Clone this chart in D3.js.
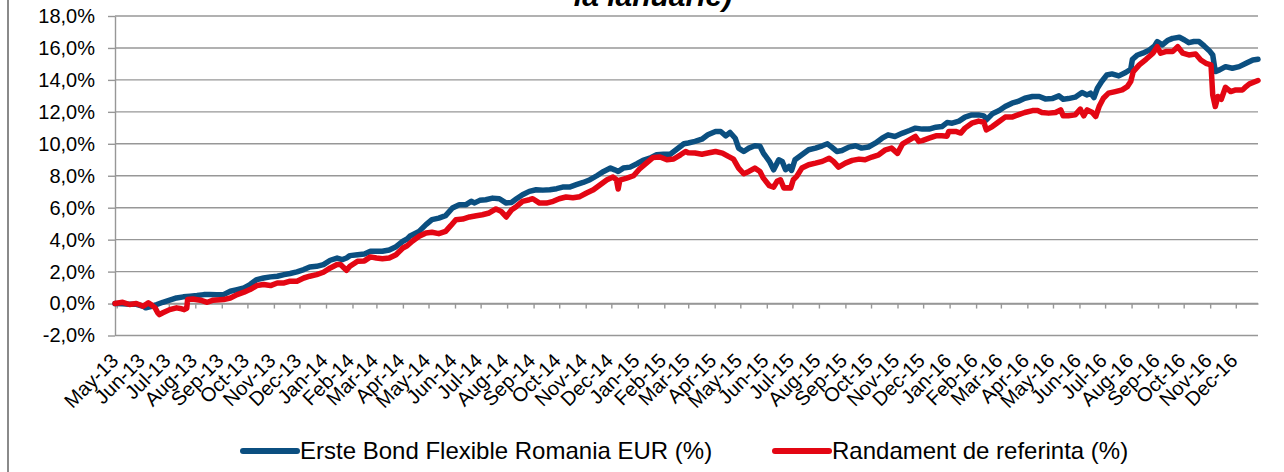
<!DOCTYPE html>
<html>
<head>
<meta charset="utf-8">
<style>
  body { margin: 0; background: #fff; }
  svg { display: block; font-family: "Liberation Sans", Arial, sans-serif; }
  .grid line { stroke: #979797; stroke-width: 1.4; }
  .axis .domain, .axis line { stroke: #979797; stroke-width: 1.4; }
  .axis text { font-size: 20px; fill: #000; }
</style>
</head>
<body>
<svg width="1284" height="472"></svg>
<script src="https://cdn.jsdelivr.net/npm/d3@7"></script>
<script>

// month ticks and y ticks shown on the axes
var yTicks = [-2, 0, 2, 4, 6, 8, 10, 12, 14, 16, 18];
var monthStart = "2013-05-01", monthEnd = "2016-12-01";

var seriesNames = ["Erste Bond Flexible Romania EUR (%)", "Randament de referinta (%)"];

// Erste Bond Flexible Romania EUR (%), cumulative return
var fundData = [
  ["2013-04-29", 0.0], ["2013-05-08", -0.02], ["2013-05-16", -0.05], ["2013-05-24", -0.05],
  ["2013-06-01", -0.17], ["2013-06-04", -0.27], ["2013-06-11", -0.17], ["2013-06-17", -0.06],
  ["2013-06-24", 0.08], ["2013-07-02", 0.21], ["2013-07-10", 0.35], ["2013-07-18", 0.42],
  ["2013-07-26", 0.46], ["2013-08-03", 0.5], ["2013-08-11", 0.56], ["2013-08-18", 0.56],
  ["2013-08-26", 0.55], ["2013-09-03", 0.56], ["2013-09-11", 0.77], ["2013-09-19", 0.875],
  ["2013-09-27", 0.98], ["2013-10-04", 1.19], ["2013-10-12", 1.5], ["2013-10-20", 1.6],
  ["2013-10-28", 1.67], ["2013-11-05", 1.71], ["2013-11-13", 1.81], ["2013-11-20", 1.88],
  ["2013-11-28", 1.98], ["2013-12-06", 2.125], ["2013-12-13", 2.29], ["2013-12-21", 2.33],
  ["2013-12-29", 2.44], ["2014-01-06", 2.71], ["2014-01-14", 2.85], ["2014-01-20", 2.75],
  ["2014-01-25", 2.85], ["2014-01-29", 3.0], ["2014-02-07", 3.06], ["2014-02-15", 3.1],
  ["2014-02-22", 3.27], ["2014-03-01", 3.27], ["2014-03-08", 3.27], ["2014-03-16", 3.35],
  ["2014-03-24", 3.56], ["2014-04-01", 3.9], ["2014-04-06", 4.04], ["2014-04-09", 4.21],
  ["2014-04-20", 4.52], ["2014-04-28", 4.94], ["2014-05-05", 5.25], ["2014-05-13", 5.35],
  ["2014-05-21", 5.5], ["2014-05-29", 5.98], ["2014-06-06", 6.19], ["2014-06-14", 6.19],
  ["2014-06-20", 6.4], ["2014-06-24", 6.3], ["2014-06-30", 6.46], ["2014-07-07", 6.5],
  ["2014-07-15", 6.6], ["2014-07-23", 6.56], ["2014-07-31", 6.29], ["2014-08-06", 6.33],
  ["2014-08-12", 6.56], ["2014-08-19", 6.81], ["2014-08-27", 7.02], ["2014-09-04", 7.125],
  ["2014-09-12", 7.1], ["2014-09-20", 7.125], ["2014-09-28", 7.19], ["2014-10-05", 7.29],
  ["2014-10-13", 7.29], ["2014-10-21", 7.44], ["2014-10-29", 7.58], ["2014-11-06", 7.75],
  ["2014-11-14", 8.0], ["2014-11-22", 8.27], ["2014-11-30", 8.48], ["2014-12-05", 8.37],
  ["2014-12-09", 8.27], ["2014-12-15", 8.48], ["2014-12-23", 8.54], ["2014-12-31", 8.75],
  ["2015-01-07", 8.96], ["2015-01-15", 9.1], ["2015-01-23", 9.31], ["2015-01-31", 9.35],
  ["2015-02-08", 9.35], ["2015-02-16", 9.67], ["2015-02-24", 10.0], ["2015-03-01", 10.05],
  ["2015-03-09", 10.15], ["2015-03-17", 10.29], ["2015-03-24", 10.56], ["2015-04-02", 10.77],
  ["2015-04-08", 10.77], ["2015-04-14", 10.5], ["2015-04-19", 10.71], ["2015-04-25", 10.35],
  ["2015-04-29", 9.73], ["2015-05-05", 9.52], ["2015-05-11", 9.73], ["2015-05-18", 9.875],
  ["2015-05-24", 9.85], ["2015-05-28", 9.42], ["2015-06-04", 8.9], ["2015-06-09", 8.375],
  ["2015-06-15", 9.0], ["2015-06-19", 8.9], ["2015-06-23", 8.375], ["2015-06-27", 8.58],
  ["2015-06-30", 8.33], ["2015-07-04", 9.0], ["2015-07-12", 9.31], ["2015-07-20", 9.625],
  ["2015-07-28", 9.73], ["2015-08-05", 9.875], ["2015-08-11", 10.0], ["2015-08-16", 9.79],
  ["2015-08-22", 9.52], ["2015-08-28", 9.58], ["2015-09-05", 9.79], ["2015-09-13", 9.875],
  ["2015-09-20", 9.73], ["2015-09-28", 9.8], ["2015-10-06", 10.04], ["2015-10-14", 10.35],
  ["2015-10-21", 10.56], ["2015-10-29", 10.46], ["2015-11-07", 10.67], ["2015-11-15", 10.83],
  ["2015-11-22", 10.98], ["2015-11-30", 10.92], ["2015-12-08", 10.92], ["2015-12-16", 11.04],
  ["2015-12-23", 11.08], ["2015-12-29", 11.33], ["2016-01-04", 11.29], ["2016-01-12", 11.42],
  ["2016-01-19", 11.67], ["2016-01-27", 11.81], ["2016-02-04", 11.81], ["2016-02-10", 11.75],
  ["2016-02-13", 11.5], ["2016-02-20", 11.875], ["2016-02-28", 12.08], ["2016-03-06", 12.33],
  ["2016-03-14", 12.54], ["2016-03-21", 12.65], ["2016-03-29", 12.85], ["2016-04-07", 12.96],
  ["2016-04-15", 12.96], ["2016-04-22", 12.81], ["2016-04-30", 12.83], ["2016-05-08", 13.0],
  ["2016-05-13", 12.79], ["2016-05-19", 12.83], ["2016-05-27", 12.92], ["2016-06-04", 13.21],
  ["2016-06-10", 13.06], ["2016-06-14", 13.17], ["2016-06-18", 12.9], ["2016-06-22", 13.48],
  ["2016-06-27", 13.9], ["2016-07-03", 14.31], ["2016-07-09", 14.375], ["2016-07-17", 14.25],
  ["2016-07-25", 14.46], ["2016-07-31", 14.67], ["2016-08-02", 15.29], ["2016-08-08", 15.56],
  ["2016-08-14", 15.67], ["2016-08-22", 15.875], ["2016-08-28", 16.125], ["2016-08-31", 16.4],
  ["2016-09-06", 16.19], ["2016-09-12", 16.46], ["2016-09-18", 16.6], ["2016-09-26", 16.67],
  ["2016-10-02", 16.5], ["2016-10-07", 16.33], ["2016-10-13", 16.4], ["2016-10-19", 16.4],
  ["2016-10-25", 16.125], ["2016-10-31", 15.83], ["2016-11-04", 15.56], ["2016-11-07", 14.52],
  ["2016-11-12", 14.625], ["2016-11-19", 14.83], ["2016-11-27", 14.73], ["2016-12-05", 14.83],
  ["2016-12-13", 15.04], ["2016-12-21", 15.25], ["2016-12-27", 15.29]
];

// Randament de referinta (%), benchmark
var benchData = [
  ["2013-04-29", 0.0], ["2013-05-08", 0.08], ["2013-05-16", -0.06], ["2013-05-24", 0.0],
  ["2013-06-01", -0.17], ["2013-06-07", 0.04], ["2013-06-11", -0.1], ["2013-06-15", -0.27],
  ["2013-06-18", -0.58], ["2013-06-20", -0.69], ["2013-06-24", -0.58], ["2013-07-02", -0.38],
  ["2013-07-10", -0.27], ["2013-07-16", -0.33], ["2013-07-19", -0.38], ["2013-07-22", -0.3],
  ["2013-07-23", 0.25], ["2013-07-29", 0.29], ["2013-08-07", 0.21], ["2013-08-15", 0.08],
  ["2013-08-22", 0.21], ["2013-09-03", 0.25], ["2013-09-11", 0.35], ["2013-09-19", 0.56],
  ["2013-09-27", 0.71], ["2013-10-04", 0.875], ["2013-10-12", 1.125], ["2013-10-20", 1.19],
  ["2013-10-28", 1.125], ["2013-11-05", 1.29], ["2013-11-13", 1.29], ["2013-11-20", 1.4],
  ["2013-11-28", 1.4], ["2013-12-06", 1.6], ["2013-12-13", 1.71], ["2013-12-21", 1.81],
  ["2013-12-29", 1.96], ["2014-01-06", 2.23], ["2014-01-14", 2.44], ["2014-01-18", 2.44],
  ["2014-01-21", 2.29], ["2014-01-25", 2.08], ["2014-01-29", 2.33], ["2014-02-07", 2.65],
  ["2014-02-15", 2.67], ["2014-02-22", 2.92], ["2014-03-01", 2.85], ["2014-03-08", 2.81],
  ["2014-03-16", 2.85], ["2014-03-24", 3.06], ["2014-04-01", 3.48], ["2014-04-06", 3.62],
  ["2014-04-12", 3.9], ["2014-04-20", 4.21], ["2014-04-28", 4.42], ["2014-05-05", 4.46],
  ["2014-05-13", 4.375], ["2014-05-21", 4.52], ["2014-05-27", 4.875], ["2014-06-02", 5.25],
  ["2014-06-10", 5.29], ["2014-06-18", 5.42], ["2014-06-26", 5.5], ["2014-07-03", 5.56],
  ["2014-07-11", 5.67], ["2014-07-19", 5.92], ["2014-07-25", 5.77], ["2014-07-31", 5.42],
  ["2014-08-06", 5.85], ["2014-08-12", 6.08], ["2014-08-19", 6.4], ["2014-08-27", 6.5],
  ["2014-08-31", 6.56], ["2014-09-08", 6.29], ["2014-09-16", 6.29], ["2014-09-24", 6.4],
  ["2014-10-01", 6.56], ["2014-10-09", 6.67], ["2014-10-17", 6.62], ["2014-10-25", 6.69],
  ["2014-11-02", 6.92], ["2014-11-10", 7.125], ["2014-11-18", 7.44], ["2014-11-26", 7.75],
  ["2014-12-03", 7.92], ["2014-12-07", 7.75], ["2014-12-09", 7.17], ["2014-12-11", 7.73],
  ["2014-12-19", 7.85], ["2014-12-27", 8.0], ["2015-01-03", 8.42], ["2015-01-11", 8.79],
  ["2015-01-19", 9.15], ["2015-01-27", 9.17], ["2015-02-04", 9.0], ["2015-02-12", 9.05],
  ["2015-02-20", 9.31], ["2015-02-26", 9.52], ["2015-03-01", 9.44], ["2015-03-09", 9.42],
  ["2015-03-17", 9.35], ["2015-03-24", 9.42], ["2015-04-02", 9.52], ["2015-04-10", 9.42],
  ["2015-04-17", 9.21], ["2015-04-23", 9.04], ["2015-04-29", 8.48], ["2015-05-05", 8.125],
  ["2015-05-11", 8.27], ["2015-05-18", 8.48], ["2015-05-24", 8.27], ["2015-05-28", 7.85],
  ["2015-06-04", 7.375], ["2015-06-09", 7.29], ["2015-06-13", 7.65], ["2015-06-17", 7.75],
  ["2015-06-21", 7.23], ["2015-06-25", 7.25], ["2015-06-29", 7.23], ["2015-07-02", 7.75],
  ["2015-07-06", 7.96], ["2015-07-12", 8.48], ["2015-07-20", 8.69], ["2015-07-28", 8.79],
  ["2015-08-05", 8.9], ["2015-08-13", 9.1], ["2015-08-18", 8.9], ["2015-08-24", 8.54],
  ["2015-09-01", 8.79], ["2015-09-09", 8.96], ["2015-09-17", 9.04], ["2015-09-24", 9.0],
  ["2015-10-02", 9.17], ["2015-10-10", 9.31], ["2015-10-18", 9.625], ["2015-10-25", 9.73],
  ["2015-11-01", 9.4], ["2015-11-07", 10.0], ["2015-11-15", 10.25], ["2015-11-22", 10.46],
  ["2015-11-26", 10.15], ["2015-11-30", 10.2], ["2015-12-08", 10.35], ["2015-12-16", 10.5],
  ["2015-12-23", 10.5], ["2015-12-29", 10.48], ["2015-12-31", 10.77], ["2016-01-08", 10.77],
  ["2016-01-14", 10.67], ["2016-01-19", 10.98], ["2016-01-27", 11.29], ["2016-02-04", 11.42],
  ["2016-02-10", 11.35], ["2016-02-13", 10.875], ["2016-02-20", 11.08], ["2016-02-28", 11.4],
  ["2016-03-06", 11.67], ["2016-03-14", 11.67], ["2016-03-21", 11.81], ["2016-03-29", 11.96],
  ["2016-04-07", 12.08], ["2016-04-13", 12.08], ["2016-04-18", 11.96], ["2016-04-26", 11.92],
  ["2016-05-04", 11.96], ["2016-05-10", 12.125], ["2016-05-13", 11.75], ["2016-05-19", 11.75],
  ["2016-05-27", 11.81], ["2016-06-02", 12.17], ["2016-06-06", 11.75], ["2016-06-10", 12.125],
  ["2016-06-16", 11.96], ["2016-06-20", 11.71], ["2016-06-24", 12.33], ["2016-06-29", 12.85],
  ["2016-07-05", 13.17], ["2016-07-13", 13.27], ["2016-07-21", 13.375], ["2016-07-27", 13.58],
  ["2016-07-31", 13.9], ["2016-08-03", 14.52], ["2016-08-10", 14.94], ["2016-08-18", 15.29],
  ["2016-08-26", 15.67], ["2016-08-31", 16.08], ["2016-09-04", 15.67], ["2016-09-10", 15.77],
  ["2016-09-18", 15.77], ["2016-09-24", 16.08], ["2016-09-30", 15.67], ["2016-10-07", 15.56],
  ["2016-10-15", 15.62], ["2016-10-21", 15.25], ["2016-10-27", 15.04], ["2016-11-02", 14.94],
  ["2016-11-04", 13.06], ["2016-11-07", 12.33], ["2016-11-10", 12.96], ["2016-11-14", 12.79],
  ["2016-11-19", 13.54], ["2016-11-25", 13.27], ["2016-12-01", 13.375], ["2016-12-09", 13.375],
  ["2016-12-13", 13.58], ["2016-12-17", 13.75], ["2016-12-27", 13.96]
];

var colors = ["#0b4f80", "#e30613"];

var svg = d3.select("svg");
var parse = d3.timeParse("%Y-%m-%d");

var plot = {left: 115, right: 1258, top: 16, bottom: 335.5};

var x = d3.scaleTime()
    .domain([parse("2013-04-29"), parse("2016-12-27")])
    .range([plot.left, plot.right]);

var y = d3.scaleLinear()
    .domain([-2, 18])
    .range([plot.bottom, plot.top]);

var ro = d3.formatLocale({decimal: ",", thousands: ".", grouping: [3], currency: ["", ""], minus: "-"});
var pct = function(d) { return ro.format(".1f")(d) + "%"; };

// outer chart border (left side is all that shows)
svg.append("line")
    .attr("x1", 8).attr("x2", 8).attr("y1", 0).attr("y2", 472)
    .attr("stroke", "#8a8a8a").attr("stroke-width", 2);

// title, only its last line peeks in at the top
svg.append("text")
    .attr("x", 653).attr("y", 6)
    .attr("text-anchor", "middle")
    .attr("font-size", 30).attr("font-weight", "bold").attr("font-style", "italic")
    .text("la ianuarie)");

// horizontal gridlines
svg.append("g").attr("class", "grid")
  .selectAll("line")
  .data(yTicks)
  .join("line")
    .attr("x1", plot.left).attr("x2", plot.right)
    .attr("y1", function(d) { return y(d); })
    .attr("y2", function(d) { return y(d); });

// y axis
svg.append("g")
    .attr("class", "axis")
    .attr("transform", "translate(" + plot.left + ",0)")
    .call(d3.axisLeft(y).tickValues(yTicks).tickSize(7).tickSizeOuter(0).tickPadding(13).tickFormat(pct));

// x axis crosses at 0%, ticks only
var months = d3.timeMonth.range(parse(monthStart), d3.timeMonth.offset(parse(monthEnd), 1));
svg.append("g")
    .attr("class", "axis")
    .attr("transform", "translate(0," + y(0) + ")")
    .call(d3.axisBottom(x).tickValues(months).tickSize(5).tickSizeOuter(0).tickFormat(""));

// month labels below the plot, rotated
var monthFmt = d3.timeFormat("%b-%y");
svg.append("g")
    .attr("font-size", 20)
  .selectAll("text")
  .data(months)
  .join("text")
    .attr("text-anchor", "end")
    .attr("transform", function(d) { return "translate(" + (x(d) + 3) + ",362) rotate(-45)"; })
    .text(monthFmt);

// lines
var line = d3.line()
    .x(function(d) { return x(parse(d[0])); })
    .y(function(d) { return y(d[1]); });

[fundData, benchData].forEach(function(data, i) {
  svg.append("path")
      .datum(data)
      .attr("fill", "none")
      .attr("stroke", colors[i])
      .attr("stroke-width", 5.5)
      .attr("stroke-linejoin", "round")
      .attr("stroke-linecap", "round")
      .attr("d", line);
});

// legend
var legendPos = [243, 775];
var legend = svg.append("g")
  .selectAll("g")
  .data(seriesNames)
  .join("g")
    .attr("transform", function(d, i) { return "translate(" + legendPos[i] + ",451)"; });

legend.append("line")
    .attr("x1", 0).attr("x2", 54)
    .attr("stroke", function(d, i) { return colors[i]; })
    .attr("stroke-width", 6)
    .attr("stroke-linecap", "round");

legend.append("text")
    .attr("x", 57).attr("dy", "0.35em")
    .attr("font-size", 24)
    .text(function(d) { return d; });

</script>
</body>
</html>
